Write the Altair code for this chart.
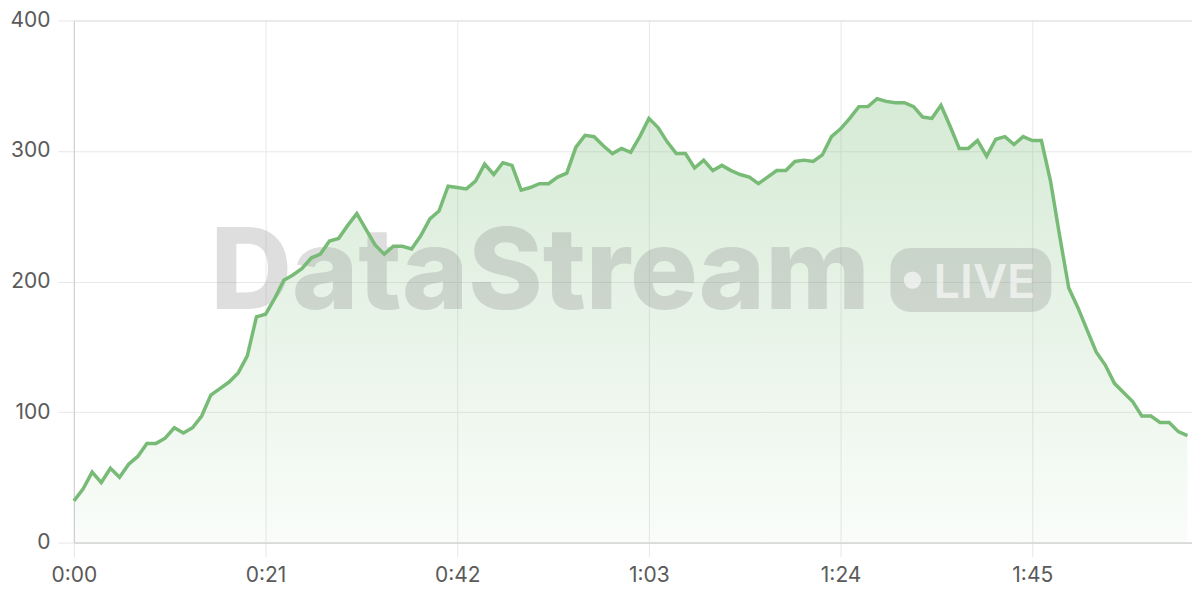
import altair as alt
import pandas as pd

# seconds since start
seconds = list(range(0, 123))
values = [
    32, 41, 54, 46, 57, 50, 60, 66, 76, 76,
    80, 88, 84, 88, 97, 113, 118, 123, 130, 143,
    173, 175, 187, 201, 205, 210, 218, 221, 231, 233,
    243, 252, 240, 228, 221, 227, 227, 225, 235, 248,
    254, 273, 272, 271, 277, 290, 282, 291, 289, 270,
    272, 275, 275, 280, 283, 303, 312, 311, 304, 298,
    302, 299, 311, 325, 318, 307, 298, 298, 287, 293,
    285, 289, 285, 282, 280, 275, 280, 285, 285, 292,
    293, 292, 297, 311, 317, 325, 334, 334, 340, 338,
    337, 337, 334, 326, 325, 335, 319, 302, 302, 308,
    296, 309, 311, 305, 311, 308, 308, 277, 235, 195,
    180, 163, 146, 136, 122, 115, 108, 97, 97, 92,
    92, 85, 82,
]
x_ticks = [0, 21, 42, 63, 84, 105]
y_ticks = [0, 100, 200, 300, 400]

df = pd.DataFrame({"t": seconds, "v": values})

LINE = "#77bb76"
FONT = "Inter"
LABEL = "#5a5a5a"

x_enc = alt.X(
    "t:Q",
    scale=alt.Scale(domain=[0, 122.5], nice=False, zero=False),
    axis=alt.Axis(
        values=x_ticks,
        labelExpr="floor(datum.value/60) + ':' + (datum.value % 60 < 10 ? '0' : '') + (datum.value % 60)",
        title=None,
        grid=True,
        gridColor="#e8e8e8",
        domainColor="#cfcfcf",
        tickColor="#e6e6e6",
        tickSize=14,
        labelPadding=8,
        labelFontSize=21,
        labelFont=FONT,
        labelColor=LABEL,
        labelFlush=False,
    ),
)
y_enc = alt.Y(
    "v:Q",
    scale=alt.Scale(domain=[0, 400], nice=False),
    axis=alt.Axis(
        values=y_ticks,
        title=None,
        grid=True,
        gridColor="#e8e8e8",
        domainColor="#cfcfcf",
        tickColor="#e6e6e6",
        tickSize=16,
        labelPadding=8,
        labelFontSize=21,
        labelFont=FONT,
        labelColor=LABEL,
    ),
)

base = alt.Chart(df)

area = base.mark_area(
    color=alt.Gradient(
        gradient="linear",
        stops=[
            alt.GradientStop(color="rgba(119,187,118,0.04)", offset=0),
            alt.GradientStop(color="rgba(119,187,118,0.30)", offset=1),
        ],
        x1=1, x2=1, y1=1, y2=0,
    ),
    interpolate="linear",
).encode(x=x_enc, y=y_enc)

line = base.mark_line(color=LINE, strokeWidth=3.5, interpolate="linear").encode(
    x="t:Q", y="v:Q"
)

wm_df = pd.DataFrame({"label": ["DataStream"]})
watermark = alt.Chart(wm_df).mark_text(
    font=FONT,
    fontSize=113,
    fontWeight=800,
    color="#888888",
    opacity=0.27,
    align="center",
    baseline="alphabetic",
).encode(text="label:N", x=alt.value(467), y=alt.value(289))

badge_df = pd.DataFrame({"b": [1]})
badge = alt.Chart(badge_df).mark_rect(
    color="#888888", opacity=0.27, cornerRadius=20
).encode(
    x=alt.value(818), x2=alt.value(979), y=alt.value(228), y2=alt.value(292)
)
dot = alt.Chart(badge_df).mark_point(
    filled=True, shape="circle", size=300, color="#ffffff", opacity=0.6
).encode(x=alt.value(840), y=alt.value(260))
live_df = pd.DataFrame({"label": ["LIVE"]})
live = alt.Chart(live_df).mark_text(
    font=FONT,
    fontSize=47,
    fontWeight=600,
    color="#ffffff",
    opacity=0.6,
    align="left",
    baseline="alphabetic",
).encode(text="label:N", x=alt.value(861), y=alt.value(278))

chart = (
    alt.layer(area, watermark, badge, dot, live, line)
    .properties(
        width=1120,
        height=523,
        autosize=alt.AutoSizeParams(type="none"),
        padding={"left": 66, "top": 12, "right": 0, "bottom": 52},
    )
    .configure_view(stroke=None)
    .configure(background="#ffffff")
)

chart.save("out.html", embed_options={"renderer": "svg", "actions": False})
